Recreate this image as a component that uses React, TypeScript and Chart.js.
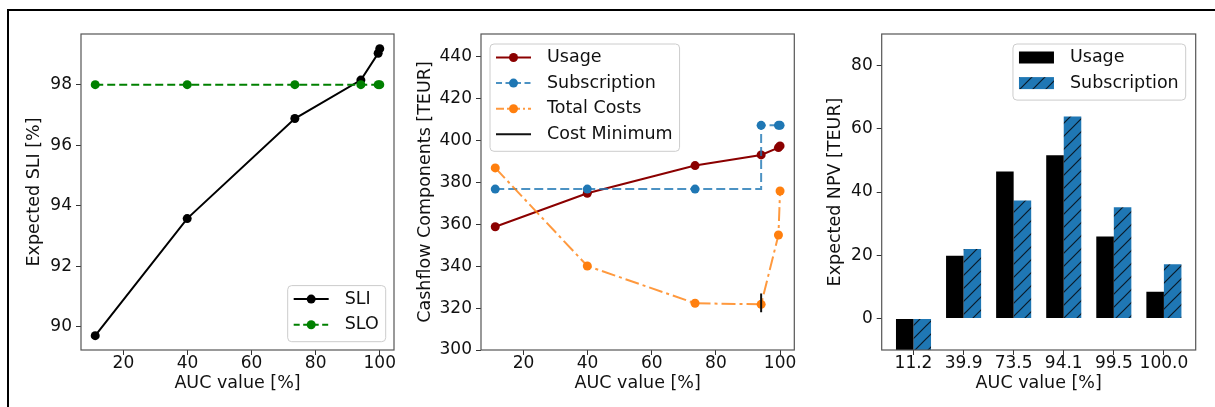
import React, { useEffect, useRef } from "react";
import { Chart, registerables } from "chart.js";

Chart.register(...registerables);
Chart.defaults.font.family = "'DejaVu Sans', sans-serif";

// ---------- data ----------
const aucValues = [11.2, 39.9, 73.5, 94.1, 99.5, 100.0];
const sliValues = [89.7, 93.57, 96.88, 98.15, 99.04, 99.19];
const sloValues = [98, 98, 98, 98, 98, 98];

const usageCost = [358.8, 374.8, 388.0, 393.1, 396.6, 397.4];
const subscriptionCost = [376.8, 376.8, 376.8, 407.2, 407.2, 407.2];
const totalCost = [386.9, 340.1, 322.3, 321.8, 354.9, 375.9];
const costMinimumX = [94.1, 94.1];
const costMinimumY = [318, 327];

const npvCategories = ["11.2", "39.9", "73.5", "94.1", "99.5", "100.0"];
const npvUsage = [-15, 19.8, 46.5, 51.6, 25.9, 8.4];
const npvSubscription = [-15, 22.0, 37.3, 63.9, 35.2, 17.1];

const aucTicks = [20, 40, 60, 80, 100];
const sliTicks = [90, 92, 94, 96, 98];
const cashTicks = [300, 320, 340, 360, 380, 400, 420, 440];
const npvTicks = [0, 20, 40, 60, 80];
const npvIndexTicks = [0, 1, 2, 3, 4, 5];

// ---------- styling ----------
const TEXT = "#111";
const TICK_FS = 17;
const LABEL_FS = 17.5;
const BLUE = "#1f77b4";
const ORANGE = "#ff7f0e";
const DARKRED = "#8b0000";
const GREEN = "#008000";

const pts = (xs: number[], ys: number[]) => xs.map((x, i) => ({ x, y: ys[i] }));

function xAxis(min: number, max: number, ticks: number[], title: string, cb?: (v: number) => string) {
  return {
    type: "linear",
    min,
    max,
    offset: false,
    afterBuildTicks: (s: any) => {
      s.ticks = ticks.map((v) => ({ value: v }));
    },
    afterFit: (s: any) => {
      s.height = 57;
    },
    grid: { drawOnChartArea: false, drawTicks: true, tickLength: 5, color: "#333", offset: false },
    border: { display: false },
    ticks: {
      color: TEXT,
      font: { size: TICK_FS, lineHeight: 1 },
      padding: 0,
      maxRotation: 0,
      autoSkip: false,
      callback: (v: any) => (cb ? cb(Number(v)) : String(v)),
    },
    title: {
      display: true,
      text: title,
      color: TEXT,
      font: { size: LABEL_FS, lineHeight: 1.2 },
      padding: { top: 0, bottom: 13 },
    },
  };
}

function yAxis(min: number, max: number, ticks: number[], title: string, width: number) {
  return {
    type: "linear",
    min,
    max,
    afterBuildTicks: (s: any) => {
      s.ticks = ticks.map((v) => ({ value: v }));
    },
    afterFit: (s: any) => {
      s.width = width;
    },
    grid: { drawOnChartArea: false, drawTicks: true, tickLength: 5, color: "#333" },
    border: { display: false },
    ticks: {
      color: TEXT,
      font: { size: TICK_FS, lineHeight: 1 },
      padding: 4,
      autoSkip: false,
      callback: (v: any) => String(v),
    },
    title: {
      display: true,
      text: title,
      color: TEXT,
      font: { size: LABEL_FS, lineHeight: 1.2 },
      padding: { top: 0, bottom: 0 },
    },
  };
}

const framePlugin = {
  id: "frame",
  afterDatasetsDraw(chart: any) {
    const { ctx, chartArea: a } = chart;
    ctx.save();
    ctx.strokeStyle = "#555";
    ctx.lineWidth = 1.2;
    ctx.strokeRect(a.left, a.top, a.right - a.left, a.bottom - a.top);
    ctx.restore();
  },
};

type LegendEntry = {
  label: string;
  kind: "line" | "patch";
  color?: string;
  lineColor?: string;
  dash?: number[];
  marker?: boolean;
  fill?: string | CanvasPattern;
};

function legendPlugin(id: string, entries: LegendEntry[], place: string, dx: number, dy: number) {
  return {
    id,
    afterDraw(chart: any) {
      const { ctx, chartArea: a } = chart;
      ctx.save();
      ctx.font = `${LABEL_FS}px 'DejaVu Sans'`;
      const textW = Math.max(...entries.map((e) => ctx.measureText(e.label).width));
      const w = 6 + 51 + textW + 7;
      const rowH = 25.6;
      const h = 13.5 + (entries.length - 1) * rowH + 17;
      let x = a.left + dx;
      let y = a.top + dy;
      if (place.includes("right")) x = a.right - dx - w;
      if (place.includes("lower")) y = a.bottom - dy - h;
      const r = 4;
      ctx.beginPath();
      ctx.moveTo(x + r, y);
      ctx.lineTo(x + w - r, y);
      ctx.quadraticCurveTo(x + w, y, x + w, y + r);
      ctx.lineTo(x + w, y + h - r);
      ctx.quadraticCurveTo(x + w, y + h, x + w - r, y + h);
      ctx.lineTo(x + r, y + h);
      ctx.quadraticCurveTo(x, y + h, x, y + h - r);
      ctx.lineTo(x, y + r);
      ctx.quadraticCurveTo(x, y, x + r, y);
      ctx.closePath();
      ctx.fillStyle = "rgba(255,255,255,0.8)";
      ctx.fill();
      ctx.strokeStyle = "#cccccc";
      ctx.lineWidth = 1;
      ctx.stroke();
      entries.forEach((e, i) => {
        const cy = y + 13.5 + i * rowH;
        const hx = x + 6;
        if (e.kind === "line") {
          ctx.setLineDash(e.dash || []);
          ctx.strokeStyle = e.lineColor || e.color || "#000";
          ctx.lineWidth = 2;
          ctx.beginPath();
          ctx.moveTo(hx, cy);
          ctx.lineTo(hx + 35, cy);
          ctx.stroke();
          ctx.setLineDash([]);
          if (e.marker) {
            ctx.fillStyle = e.color || "#000";
            ctx.beginPath();
            ctx.arc(hx + 17.5, cy, 4.5, 0, Math.PI * 2);
            ctx.fill();
          }
        } else {
          ctx.fillStyle = e.fill || "#000";
          ctx.fillRect(hx, cy - 6, 35, 12);
        }
        ctx.fillStyle = TEXT;
        ctx.textBaseline = "middle";
        ctx.textAlign = "left";
        ctx.fillText(e.label, hx + 51, cy);
      });
      ctx.restore();
    },
  };
}

function makeHatch(): CanvasPattern {
  const s = 13;
  const c = document.createElement("canvas");
  c.width = s;
  c.height = s;
  const g = c.getContext("2d")!;
  g.fillStyle = BLUE;
  g.fillRect(0, 0, s, s);
  g.strokeStyle = "#0a1a28";
  g.lineWidth = 1.2;
  g.beginPath();
  g.moveTo(-1, s + 1);
  g.lineTo(s + 1, -1);
  g.moveTo(-1, 1);
  g.lineTo(1, -1);
  g.moveTo(s - 1, s + 1);
  g.lineTo(s + 1, s - 1);
  g.stroke();
  return g.createPattern(c, "repeat")!;
}

const lineDs = (label: string, data: any[], color: string, lineColor: string, dash: number[], order: number, extra: any = {}) => ({
  label,
  data,
  borderColor: lineColor,
  backgroundColor: color,
  pointBackgroundColor: color,
  pointBorderColor: color,
  pointBorderWidth: 0,
  pointRadius: 4.5,
  borderWidth: 2,
  borderDash: dash,
  fill: false,
  tension: 0,
  order,
  ...extra,
});

export default function App() {
  const c1 = useRef<HTMLCanvasElement>(null);
  const c2 = useRef<HTMLCanvasElement>(null);
  const c3 = useRef<HTMLCanvasElement>(null);

  useEffect(() => {
    const hatch = makeHatch();
    const common = {
      responsive: false,
      animation: false,
      events: [],
      plugins: { legend: { display: false }, tooltip: { enabled: false } },
    };

    const chart1 = new Chart(c1.current!, {
      type: "line",
      data: {
        datasets: [
          lineDs("SLI", pts(aucValues, sliValues), "#000", "#000", [], 2),
          lineDs("SLO", pts(aucValues, sloValues), GREEN, GREEN, [8, 4], 1),
        ],
      },
      options: {
        ...common,
        layout: { padding: { left: 13.5, right: 11, top: 34, bottom: 0 } },
        scales: {
          x: xAxis(6.76, 104.44, aucTicks, "AUC value [%]"),
          y: yAxis(89.225, 99.675, sliTicks, "Expected SLI [%]", 57.5),
        },
      } as any,
      plugins: [
        framePlugin,
        legendPlugin("lg1", [
          { label: "SLI", kind: "line", color: "#000", marker: true },
          { label: "SLO", kind: "line", color: GREEN, dash: [6, 3.5], marker: true },
        ], "lower right", 8.3, 8.3),
      ],
    } as any);

    const chart2 = new Chart(c2.current!, {
      type: "line",
      data: {
        datasets: [
          lineDs("Usage", pts(aucValues, usageCost), DARKRED, DARKRED, [], 4),
          lineDs("Subscription", pts(aucValues, subscriptionCost), BLUE, "rgba(31,119,180,0.8)", [9, 4], 3, { stepped: "before" }),
          lineDs("Total Costs", pts(aucValues, totalCost), ORANGE, "rgba(255,127,14,0.8)", [14, 4, 3, 4], 2),
          lineDs("Cost Minimum", pts(costMinimumX, costMinimumY), "#000", "#111", [], 1, { pointRadius: 0 }),
        ],
      },
      options: {
        ...common,
        layout: { padding: { left: 9.5, right: 15.7, top: 34, bottom: 0 } },
        scales: {
          x: xAxis(6.76, 104.44, aucTicks, "AUC value [%]"),
          y: yAxis(300, 450.8, cashTicks, "Cashflow Components [TEUR]", 66.5),
        },
      } as any,
      plugins: [
        framePlugin,
        legendPlugin("lg2", [
          { label: "Usage", kind: "line", color: DARKRED, marker: true },
          { label: "Subscription", kind: "line", color: BLUE, lineColor: "rgba(31,119,180,0.8)", dash: [6, 3.5], marker: true },
          { label: "Total Costs", kind: "line", color: ORANGE, lineColor: "rgba(255,127,14,0.8)", dash: [8, 3, 2, 3], marker: true },
          { label: "Cost Minimum", kind: "line", color: "#111" },
        ], "upper left", 9, 10),
      ],
    } as any);

    const chart3 = new Chart(c3.current!, {
      type: "bar",
      data: {
        datasets: [
          {
            label: "Usage",
            data: pts(npvIndexTicks, npvUsage),
            backgroundColor: "#000",
            borderWidth: 0,
            categoryPercentage: 0.7,
            barPercentage: 1.0,
            clip: 0,
          },
          {
            label: "Subscription",
            data: pts(npvIndexTicks, npvSubscription),
            backgroundColor: hatch,
            borderWidth: 0,
            categoryPercentage: 0.7,
            barPercentage: 1.0,
            clip: 0,
          },
        ],
      },
      options: {
        ...common,
        layout: { padding: { left: 15, right: 19.3, top: 34, bottom: 0 } },
        scales: {
          x: xAxis(-0.635, 5.635, npvIndexTicks, "AUC value [%]", (v) => npvCategories[Math.round(v)] ?? ""),
          y: yAxis(-10, 90, npvTicks, "Expected NPV [TEUR]", 56.7),
        },
      } as any,
      plugins: [
        framePlugin,
        legendPlugin("lg3", [
          { label: "Usage", kind: "patch", fill: "#000" },
          { label: "Subscription", kind: "patch", fill: hatch },
        ], "upper right", 10, 10),
      ],
    } as any);

    return () => {
      chart1.destroy();
      chart2.destroy();
      chart3.destroy();
    };
  }, []);

  return (
    <div style={{ position: "absolute", left: 0, top: 0, width: 1215, height: 407, overflow: "hidden", background: "#fff" }}>
      <div
        style={{
          position: "absolute",
          left: 7,
          top: 9,
          right: 0,
          bottom: 0,
          borderTop: "2px solid #000",
          borderLeft: "2px solid #000",
        }}
      />
      <canvas ref={c1} width={395} height={407} style={{ position: "absolute", left: 10, top: 0, width: 395, height: 407 }} />
      <canvas ref={c2} width={405} height={407} style={{ position: "absolute", left: 405, top: 0, width: 405, height: 407 }} />
      <canvas ref={c3} width={405} height={407} style={{ position: "absolute", left: 810, top: 0, width: 405, height: 407 }} />
    </div>
  );
}
